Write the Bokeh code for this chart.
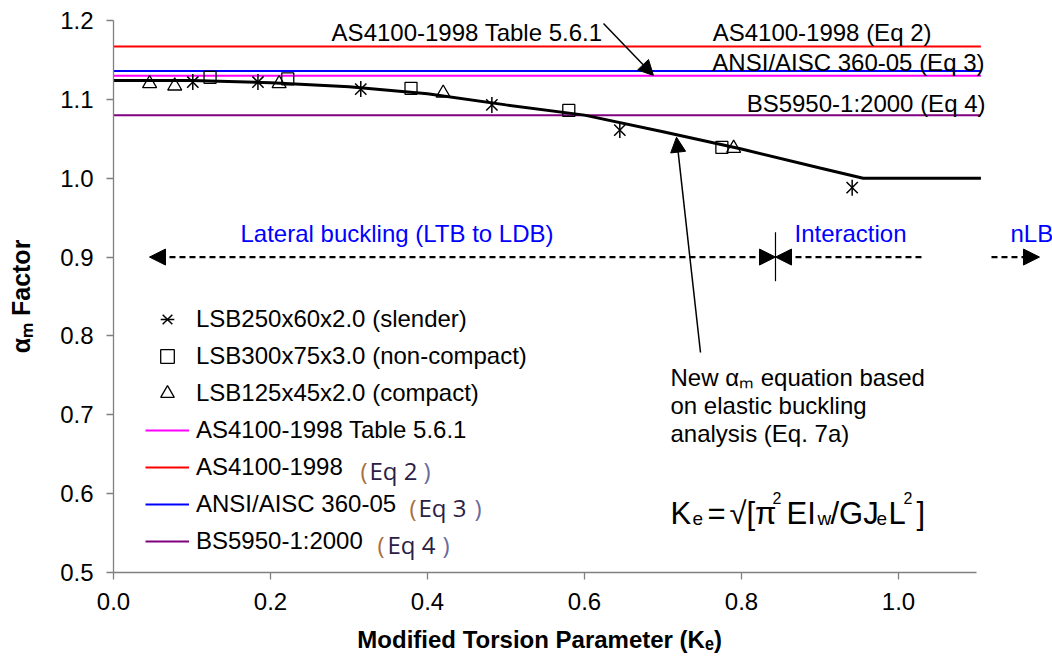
import math
from bokeh.plotting import figure
from bokeh.models import (Legend, LegendItem, Arrow, NormalHead,
                          FixedTicker, NumeralTickFormatter, Range1d)
from bokeh.core.properties import value
from bokeh.embed import file_html
from bokeh.resources import INLINE

# ---------------- data ----------------
slender_k = [0.101, 0.184, 0.315, 0.482, 0.645, 0.941]
slender_a = [1.122, 1.122, 1.113, 1.093, 1.061, 0.988]
noncompact_k = [0.123, 0.222, 0.379, 0.580, 0.775]
noncompact_a = [1.128, 1.126, 1.114, 1.086, 1.039]
compact_k = [0.046, 0.078, 0.211, 0.420, 0.790]
compact_a = [1.120, 1.117, 1.120, 1.108, 1.038]
curve_k = [0.0, 0.1, 0.2, 0.3, 0.4, 0.5, 0.6, 0.7, 0.8, 0.9, 0.955, 1.105]
curve_a = [1.124, 1.124, 1.121, 1.116, 1.107, 1.093, 1.080, 1.059, 1.037, 1.013, 1.000, 1.000]
code_names = ["AS4100-1998 Table 5.6.1", "AS4100-1998", "ANSI/AISC 360-05", "BS5950-1:2000"]
code_values = [1.130, 1.167, 1.136, 1.080]
code_colors = ["#FF00FF", "#FF0000", "#0000FF", "#800080"]
code_eq = ["", "Eq 2", "Eq 3", "Eq 4"]
hline_k = [0.0, 1.105]
x_ticks = [0.0, 0.2, 0.4, 0.6, 0.8, 1.0]
y_ticks = [0.5, 0.6, 0.7, 0.8, 0.9, 1.0, 1.1, 1.2]
series_names = ["LSB250x60x2.0 (slender)", "LSB300x75x3.0 (non-compact)", "LSB125x45x2.0 (compact)"]

FONT = "Liberation Sans"
FS = "24px"


def px2k(px):
    return (px - 113.0) / 785.0


def py2v(py):
    return 1.2 - (py - 20.0) / 788.57


p = figure(width=1052, height=661, x_range=Range1d(0, 1.1962), y_range=Range1d(0.5, 1.2),
           output_backend="svg", toolbar_location=None,
           min_border_left=113, min_border_right=0, min_border_top=20, min_border_bottom=89)
p.outline_line_color = None
p.grid.visible = False
p.background_fill_color = "white"
p.border_fill_color = "white"

# axes
for ax in (p.xaxis[0], p.yaxis[0]):
    ax.axis_line_color = "#808080"
    ax.axis_line_width = 1.3
    ax.major_tick_line_color = "#808080"
    ax.major_tick_line_width = 1.3
    ax.major_tick_out = 7
    ax.major_tick_in = 0
    ax.minor_tick_line_color = None
    ax.major_label_text_font = FONT
    ax.major_label_text_font_size = FS
    ax.major_label_text_color = "black"
    ax.major_label_standoff = 13
    ax.axis_label_text_font = FONT
    ax.axis_label_text_font_style = "bold"
    ax.axis_label_text_color = "black"
p.xaxis.ticker = FixedTicker(ticks=x_ticks)
p.yaxis.ticker = FixedTicker(ticks=y_ticks)
p.xaxis.formatter = NumeralTickFormatter(format="0.0")
p.yaxis.formatter = NumeralTickFormatter(format="0.0")
p.xaxis.bounds = (0, 1.1)
# trailing no-break spaces shift the centred label left, as in the reference
p.xaxis.axis_label = "Modified Torsion Parameter (Kₑ)" + "\u00a0" * 13
p.xaxis.axis_label_text_font_size = "24px"
p.xaxis.axis_label_standoff = 13
p.yaxis.axis_label = "αₘ Factor"
p.yaxis.axis_label_text_font_size = "25px"
p.yaxis.axis_label_standoff = 22

# code reference lines
code_renderers = []
for val, col in zip(code_values, code_colors):
    code_renderers.append(p.line(x=hline_k, y=[val, val], line_color=col, line_width=2))

# proposed curve
p.line(x=curve_k, y=curve_a, line_color="black", line_width=3)

# data points
r_s1 = p.scatter(x=slender_k, y=slender_a, marker="x", size=16, line_color="black", line_width=1.5)
r_s2 = p.scatter(x=slender_k, y=slender_a, marker="dash", angle=math.pi / 2, size=16,
                 line_color="black", line_width=1.5)
r_sq = p.scatter(x=noncompact_k, y=noncompact_a, marker="square", size=12, fill_color=None,
                 line_color="black", line_width=1.3)
r_tr = p.scatter(x=compact_k, y=compact_a, marker="triangle", size=14, fill_color=None,
                 line_color="black", line_width=1.3)

# legend
items = [LegendItem(label=series_names[0], renderers=[r_s1, r_s2]),
         LegendItem(label=series_names[1], renderers=[r_sq]),
         LegendItem(label=series_names[2], renderers=[r_tr])]
for name, r in zip(code_names, code_renderers):
    items.append(LegendItem(label=name, renderers=[r]))
legend = Legend(items=items, location=(32, 14), padding=0, margin=0, spacing=3,
                glyph_width=44, glyph_height=34, label_height=34, label_standoff=7,
                label_text_font=FONT, label_text_font_size=FS, label_text_color="black",
                border_line_color=None, background_fill_alpha=0)
p.add_layout(legend)

# "(Eq n)" pieces after legend labels
eq_open_x = [px2k(360), px2k(409), px2k(377)]
eq_text_x = [px2k(369), px2k(418), px2k(387)]
eq_close_x = [px2k(423), px2k(474), px2k(442)]
eq_y = [py2v(470), py2v(507), py2v(544)]
p.text(x=eq_open_x, y=eq_y, text=["("] * 3, text_font=value("Open Sans"), text_font_size="24px",
       text_color="#a8703e", text_baseline="middle", text_align="left")
p.text(x=eq_close_x, y=eq_y, text=[")"] * 3, text_font=value("Open Sans"), text_font_size="24px",
       text_color="#6a6a9a", text_baseline="middle", text_align="left")
p.text(x=eq_text_x, y=eq_y, text=code_eq[1:], text_font=value("Open Sans"), text_font_size="24px",
       text_color="#2a2145", text_baseline="middle", text_align="left")

# labels of reference lines at top
p.text(x=[px2k(602), px2k(931), px2k(984), px2k(985)],
       y=[py2v(31.7), py2v(31.7), py2v(61.7), py2v(103.3)],
       text=["AS4100-1998 Table 5.6.1", "AS4100-1998 (Eq 2)", "ANSI/AISC 360-05 (Eq 3)", "BS5950-1:2000 (Eq 4)"],
       text_font=value(FONT), text_font_size=FS, text_color="black",
       text_align="right", text_baseline="middle")
p.add_layout(Arrow(end=NormalHead(size=15, fill_color="black", line_color="black"),
                   x_start=px2k(603), y_start=py2v(23), x_end=px2k(653), y_end=py2v(75),
                   line_color="black", line_width=1.5))

# buckling regions along 0.9
p.text(x=[px2k(240), px2k(794), px2k(1010)], y=[py2v(233.3)] * 3,
       text=["Lateral buckling (LTB to LDB)", "Interaction", "nLB"],
       text_font=value(FONT), text_font_size=FS, text_color="#0000FF",
       text_align="left", text_baseline="middle")
y_reg = 0.9
p.add_layout(Arrow(start=NormalHead(size=16, fill_color="black", line_color="black"),
                   end=NormalHead(size=16, fill_color="black", line_color="black"),
                   x_start=px2k(775), y_start=y_reg, x_end=px2k(149), y_end=y_reg,
                   line_color="black", line_width=2.2, line_dash="6 4"))
p.add_layout(Arrow(end=NormalHead(size=16, fill_color="black", line_color="black"),
                   x_start=px2k(921), y_start=y_reg, x_end=px2k(775), y_end=y_reg,
                   line_color="black", line_width=2.2, line_dash="6 4"))
p.add_layout(Arrow(end=NormalHead(size=16, fill_color="black", line_color="black"),
                   x_start=px2k(991), y_start=y_reg, x_end=px2k(1039), y_end=y_reg,
                   line_color="black", line_width=2.2, line_dash="6 4"))
p.segment(x0=[px2k(775)], y0=[py2v(231.7)], x1=[px2k(775)], y1=[py2v(280.7)],
          line_color="black", line_width=1.2)

# note on the new equation
p.text(x=[px2k(670)] * 3, y=[py2v(377.3), py2v(405), py2v(433.3)],
       text=["New αₘ equation based", "on elastic buckling", "analysis (Eq. 7a)"],
       text_font=value(FONT), text_font_size=FS, text_color="black",
       text_align="left", text_baseline="middle")
p.add_layout(Arrow(end=NormalHead(size=15, fill_color="black", line_color="black"),
                   x_start=px2k(700), y_start=py2v(352), x_end=px2k(676), y_end=py2v(136.7),
                   line_color="black", line_width=1.5))

# formula Ke = sqrt[pi^2 E Iw / G Je L^2]
main_x = [px2k(670), px2k(707), px2k(729), px2k(786), px2k(830), px2k(888), px2k(916)]
main_t = ["K", "=", "√[π", "EI", "/GJ", "L", "]"]
p.text(x=main_x, y=[py2v(513.3)] * len(main_x), text=main_t, text_font=value(FONT),
       text_font_size="31px", text_color="black", text_align="left", text_baseline="alphabetic")
sub_x = [px2k(692), px2k(817), px2k(876)]
sub_t = ["e", "w", "e"]
p.text(x=sub_x, y=[py2v(518)] * 3, text=sub_t, text_font=value(FONT),
       text_font_size="19px", text_color="black", text_align="left", text_baseline="alphabetic")
sup_x = [px2k(772), px2k(903)]
p.text(x=sup_x, y=[py2v(497)] * 2, text=["2", "2"], text_font=value(FONT),
       text_font_size="16px", text_color="black", text_align="left", text_baseline="alphabetic")

open("out.html", "w").write(file_html(p, INLINE))
